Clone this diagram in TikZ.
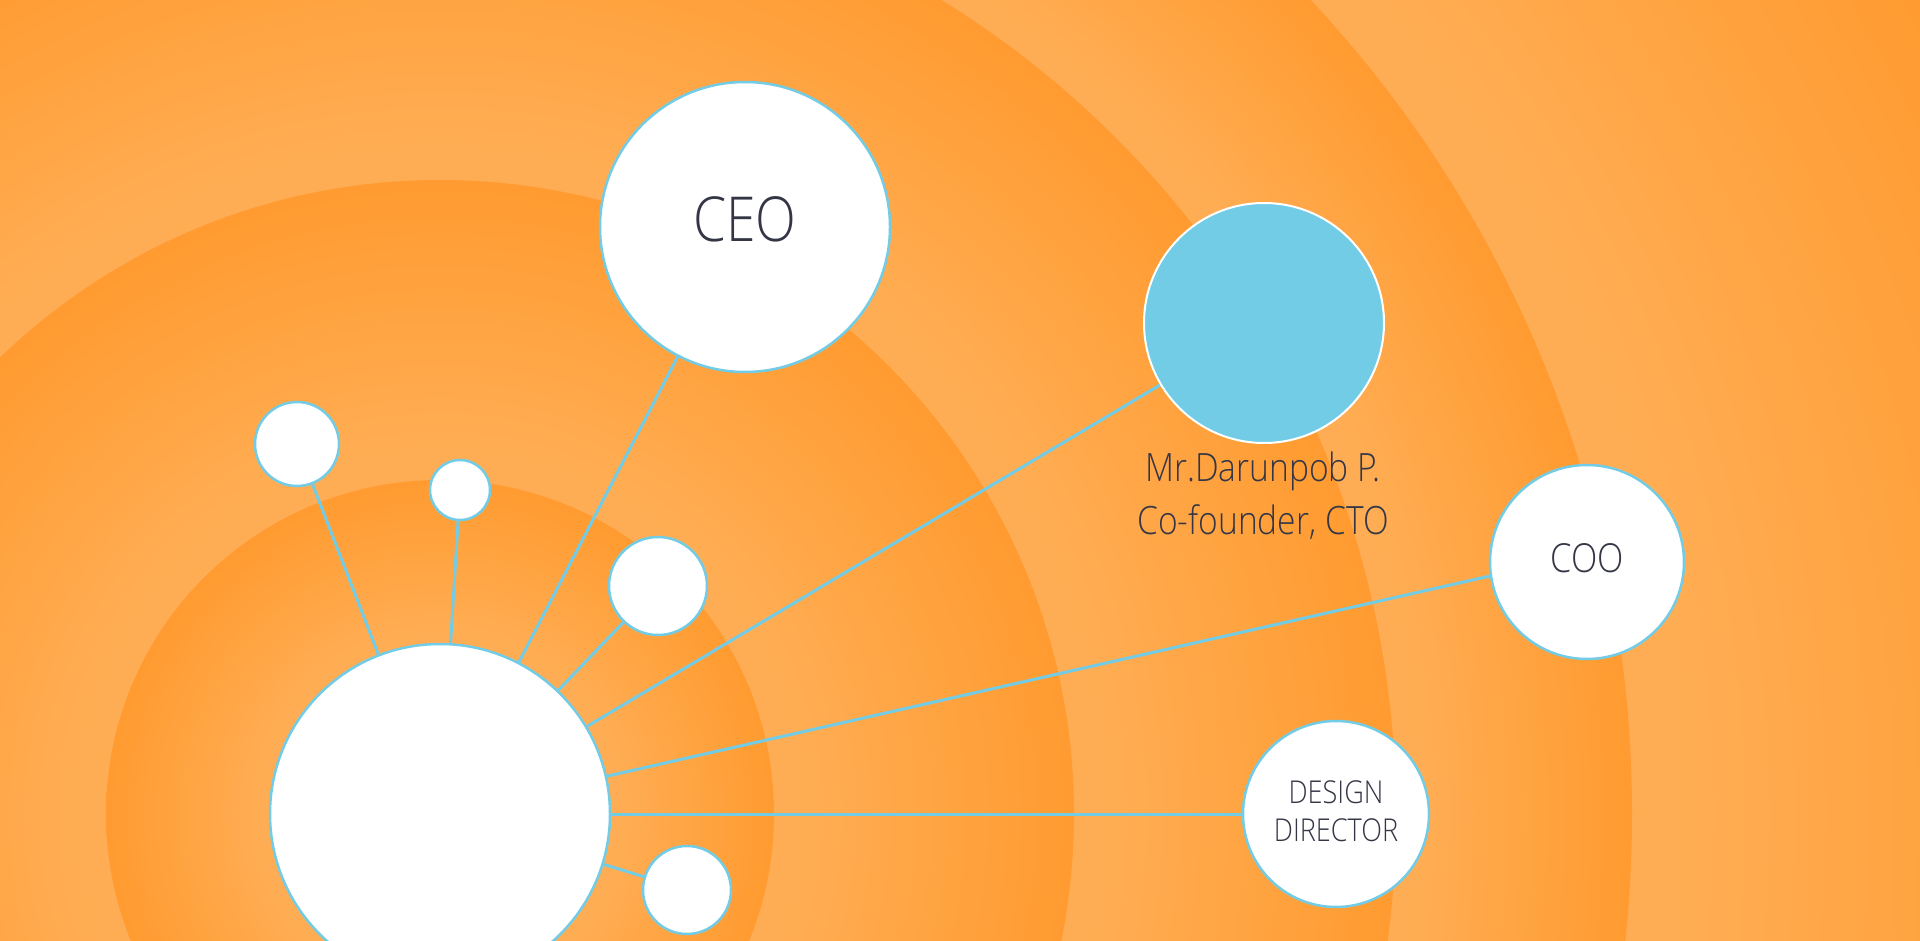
\documentclass[tikz,border=0pt]{standalone}
\usepackage{fontspec}
\setmainfont{Open Sans Light}[FakeStretch=0.86]
\definecolor{orlight}{RGB}{255,173,84}
\definecolor{ordark}{RGB}{255,155,48}
\definecolor{lineblue}{RGB}{114,204,230}
\definecolor{txt}{RGB}{52,54,70}
\pgfdeclareradialshading{bandA}{\pgfpoint{0bp}{0bp}}{color(0bp)=(orlight); color(13.47bp)=(orlight); color(25bp)=(ordark); color(50bp)=(ordark)}
\pgfdeclareradialshading{bandB}{\pgfpoint{0bp}{0bp}}{color(0bp)=(orlight); color(14.35bp)=(orlight); color(25bp)=(ordark); color(50bp)=(ordark)}
\pgfdeclareradialshading{bandC}{\pgfpoint{0bp}{0bp}}{color(0bp)=(orlight); color(17.42bp)=(orlight); color(25bp)=(ordark); color(50bp)=(ordark)}
\pgfdeclareradialshading{bandD}{\pgfpoint{0bp}{0bp}}{color(0bp)=(orlight); color(20.55bp)=(orlight); color(25bp)=(ordark); color(50bp)=(ordark)}
\pgfdeclareradialshading{bandE}{\pgfpoint{0bp}{0bp}}{color(0bp)=(orlight); color(18.37bp)=(orlight); color(25bp)=(ordark); color(50bp)=(ordark)}
\pgfdeclarelayer{backfill}
\pgfdeclarelayer{links}
\pgfsetlayers{backfill,links,main}
\tikzset{
  member/.style={circle, draw=lineblue, line width=2.5pt, fill=white, inner sep=0pt},
  ctonode/.style={circle, draw=white, line width=2pt, fill=lineblue, inner sep=0pt},
  link/.style={draw=lineblue, line width=3pt},
  lbl/.style={text=txt, anchor=base, inner sep=0pt},
}
\begin{document}
\begin{tikzpicture}[x=1pt,y=-1pt]
\useasboundingbox (0,0) rectangle (1920,941);
\clip (0,0) rectangle (1920,941);
\begin{pgfonlayer}{backfill}
\fill[ordark] (0,0) rectangle (1920,941);
\coordinate (ctr) at (440,814);
\shade[shading=bandE] (ctr) circle[radius=1690pt];
\shade[shading=bandD] (ctr) circle[radius=1192pt];
\shade[shading=bandC] (ctr) circle[radius=956pt];
\shade[shading=bandB] (ctr) circle[radius=634pt];
\shade[shading=bandA] (ctr) circle[radius=334pt];
\end{pgfonlayer}

\node[member, minimum size=340pt] (hub) at (440,814) {};
\node[member, minimum size=290pt] (ceo) at (745,227) {};
\node[ctonode, minimum size=240pt] (cto) at (1264,323) {};
\node[member, minimum size=194pt] (coo) at (1587,562) {};
\node[member, minimum size=186pt] (dd) at (1336,814) {};
\node[member, minimum size=84pt] (sa) at (297,444) {};
\node[member, minimum size=60pt] (sb) at (460,490) {};
\node[member, minimum size=98pt] (sc) at (658,586) {};
\node[member, minimum size=88pt] (sd) at (687,890) {};
\coordinate (cooaim) at (1587,554);

\begin{pgfonlayer}{links}
\draw[link] (hub.center) -- (sa.center);
\draw[link] (hub.center) -- (sb.center);
\draw[link] (hub.center) -- (ceo.center);
\draw[link] (hub.center) -- (sc.center);
\draw[link] (hub.center) -- (cto.center);
\draw[link] (hub.center) -- (cooaim);
\draw[link] (hub.center) -- (dd.center);
\draw[link] (hub.center) -- (sd.center);
\end{pgfonlayer}

\node[lbl, font=\fontsize{62pt}{62pt}\selectfont] (ceotxt) at (745,242) {CEO};
\node[lbl, font=\fontsize{40pt}{40pt}\selectfont] (cootxt) at (1587,572) {COO};
\node[lbl, font=\fontsize{31.5pt}{31.5pt}\selectfont] (ddtxt1) at (1336,803) {DESIGN};
\node[lbl, font=\fontsize{31.5pt}{31.5pt}\selectfont] (ddtxt2) at (1336,841) {DIRECTOR};
\node[lbl, font=\fontsize{39pt}{39pt}\selectfont] (ctotxt1) at (1263,481) {Mr.Darunpob P.};
\node[lbl, font=\fontsize{39pt}{39pt}\selectfont] (ctotxt2) at (1263,534) {Co-founder, CTO};
\end{tikzpicture}
\end{document}
